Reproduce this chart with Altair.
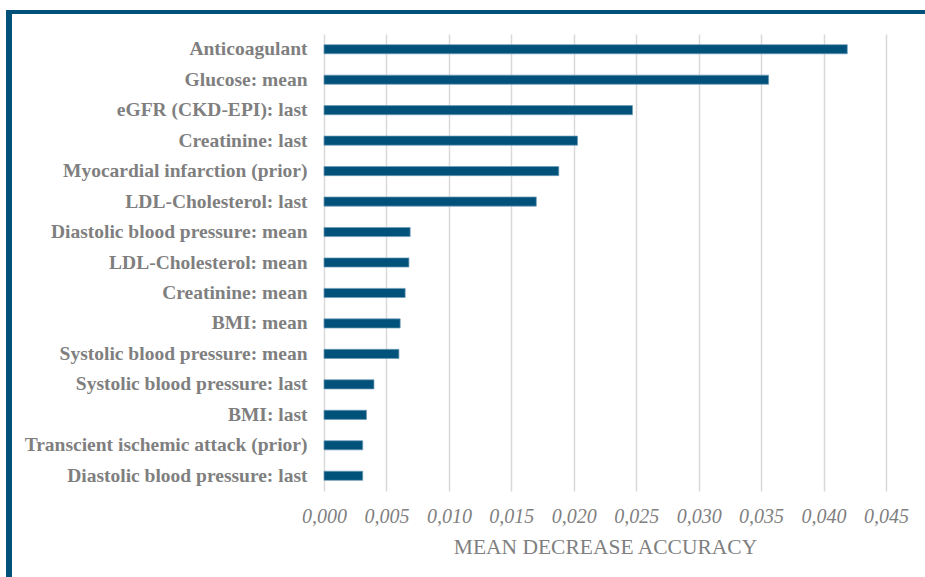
import altair as alt
import pandas as pd

features = [
    "Anticoagulant",
    "Glucose: mean",
    "eGFR (CKD-EPI): last",
    "Creatinine: last",
    "Myocardial infarction (prior)",
    "LDL-Cholesterol: last",
    "Diastolic blood pressure: mean",
    "LDL-Cholesterol: mean",
    "Creatinine: mean",
    "BMI: mean",
    "Systolic blood pressure: mean",
    "Systolic blood pressure: last",
    "BMI: last",
    "Transcient ischemic attack (prior)",
    "Diastolic blood pressure: last",
]
importance = [
    0.0419, 0.0356, 0.0247, 0.0203, 0.0188, 0.0170,
    0.0069, 0.0068, 0.0065, 0.0061, 0.0060,
    0.0040, 0.0034, 0.0031, 0.0031,
]
x_ticks = [0.0, 0.005, 0.010, 0.015, 0.020, 0.025, 0.030, 0.035, 0.040, 0.045]

df = pd.DataFrame({"feature": features, "mda": importance})

BLUE = "#00527b"
GREY = "#7f7f7f"
SERIF = "Liberation Serif"

W, H = 562, 457
LEFT, TOP = 324, 34

bars = alt.Chart(df).mark_bar(
    color=BLUE, stroke="#6f9bb8", strokeWidth=0.7
).encode(
    x=alt.X(
        "mda:Q",
        scale=alt.Scale(domain=[0, 0.045], nice=False, zero=True),
        axis=alt.Axis(
            values=x_ticks,
            labelExpr="replace(format(datum.value, '.3f'), '.', ',')",
            title="MEAN DECREASE ACCURACY",
            grid=True,
            gridColor="#d9d9d9",
            gridWidth=1.5,
            domain=False,
            ticks=False,
            labelFlush=False,
            labelOverlap=False,
            labelFont=SERIF,
            labelFontStyle="italic",
            labelFontSize=20,
            labelColor=GREY,
            labelPadding=15,
            titleFont=SERIF,
            titleFontWeight="normal",
            titleFontSize=21.5,
            titleColor=GREY,
            titlePadding=10,
        ),
    ),
    y=alt.Y(
        "feature:N",
        sort=features,
        scale=alt.Scale(paddingInner=0.7, paddingOuter=0.35),
        axis=alt.Axis(
            title=None,
            domain=False,
            ticks=False,
            grid=False,
            labelFont=SERIF,
            labelFontWeight="bold",
            labelFontSize=19.5,
            labelColor=GREY,
            labelPadding=17,
            labelLimit=400,
        ),
    ),
)

# dark frame along the top and left edges of the figure
frame_top = alt.Chart(df).mark_rule(color=BLUE, strokeWidth=4, clip=False).encode(
    x=alt.value(6 - LEFT), x2=alt.value(925 - LEFT), y=alt.value(12 - TOP)
)
frame_left = alt.Chart(df).mark_rule(color=BLUE, strokeWidth=6, clip=False).encode(
    x=alt.value(9 - LEFT), y=alt.value(10 - TOP), y2=alt.value(577 - TOP)
)

chart = (
    alt.layer(bars, frame_top, frame_left)
    .properties(
        width=W,
        height=H,
        autosize=alt.AutoSizeParams(type="none"),
        padding={"left": LEFT, "top": TOP, "right": 925 - LEFT - W, "bottom": 577 - TOP - H},
        background="white",
    )
    .configure_view(stroke=None)
)

chart.save("out.html", embed_options={"renderer": "svg", "actions": False})
